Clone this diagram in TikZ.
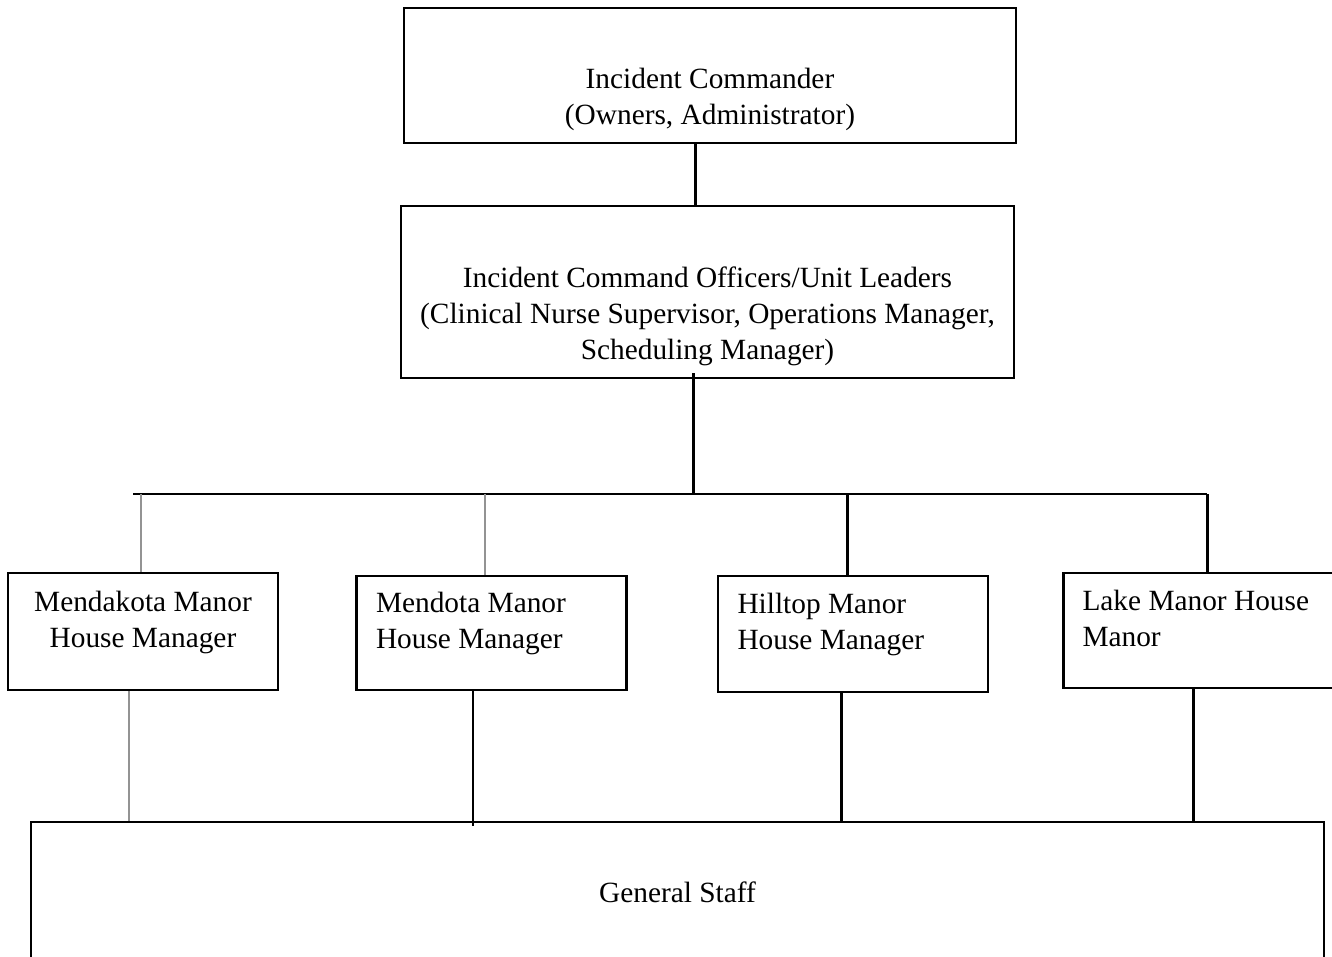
\documentclass[tikz,border=0pt]{standalone}
\usepackage{fontspec}
\setmainfont{Liberation Serif}
\usetikzlibrary{positioning}
\tikzstyle{topbox} = [rectangle, draw=black, line width=1.3pt, text centered, align=center]
\tikzstyle{house} = [rectangle, draw=black, line width=1.3pt, minimum width=5.4cm, inner xsep=0.38cm, text width=4.62cm, align=flush left]
\tikzstyle{conn} = [line width=1.7pt, black]
\tikzstyle{gconn} = [line width=1.2pt, gray!85]

\begin{document}
\begin{tikzpicture}[font=\fontsize{16.7}{20.5}\selectfont]

\clip (0,0) rectangle (26.64,-19.14);
\fill[white] (0,0) rectangle (26.64,-19.14);

\node (ic) [topbox, minimum width=12.24cm, minimum height=2.7cm] at (14.2,-1.51) {\strut\\[0.14cm]Incident Commander\\(Owners, Administrator)};
\node (ico) [topbox, minimum width=12.26cm, minimum height=3.44cm] at (14.15,-5.84) {\strut\\[0.16cm]Incident Command Officers/Unit Leaders\\(Clinical Nurse Supervisor, Operations Manager,\\Scheduling Manager)};

\node (mk) [house, minimum height=2.34cm, align=flush center] at (2.86,-12.63) {Mendakota Manor\\House Manager\\[-0.44cm]\strut};
\node (md) [house, minimum height=2.28cm] at (9.83,-12.66) {Mendota Manor\\House Manager\\[-0.44cm]\strut};
\node (ht) [house, minimum height=2.32cm] at (17.06,-12.68) {Hilltop Manor\\House Manager\\[-0.44cm]\strut};
\node (lk) [house, minimum height=2.3cm, text width=4.9cm] at (24.1,-12.61) {Lake Manor House\\Manor\\[-0.44cm]\strut};

\node (gs) [topbox, minimum width=25.86cm, minimum height=2.8cm] at (13.55,-17.84) {General Staff};

\coordinate (busL) at (2.66,-9.88);
\coordinate (bus) at (13.86,-9.88);
\coordinate (busR) at (24.14,-9.88);

\draw [conn] ([xshift=-0.3cm]ic.south) -- ([xshift=-0.25cm]ico.north);
\draw [conn] ([xshift=-0.29cm,yshift=0.12cm]ico.south) -- (bus);
\draw [conn] (busL) -- (busR);

\draw [gconn] ([xshift=-0.04cm]mk.north |- busL) -- ([xshift=-0.04cm]mk.north);
\draw [gconn] ([xshift=-0.13cm]md.north |- busL) -- ([xshift=-0.13cm]md.north);
\draw [conn] ([xshift=-0.12cm]ht.north |- busL) -- ([xshift=-0.12cm]ht.north);
\draw [conn] (lk.north -| busR) -- (busR);

\draw [gconn] ([xshift=-0.28cm]mk.south) -- ([xshift=-0.28cm]mk.south |- gs.north);
\draw [conn] ([xshift=-0.37cm]md.south) -- ([xshift=-0.37cm,yshift=-0.1cm]md.south |- gs.north);
\draw [conn] ([xshift=-0.24cm]ht.south) -- ([xshift=-0.24cm]ht.south |- gs.north);
\draw [conn] ([xshift=-0.24cm]lk.south) -- ([xshift=-0.24cm]lk.south |- gs.north);

\end{tikzpicture}
\end{document}
